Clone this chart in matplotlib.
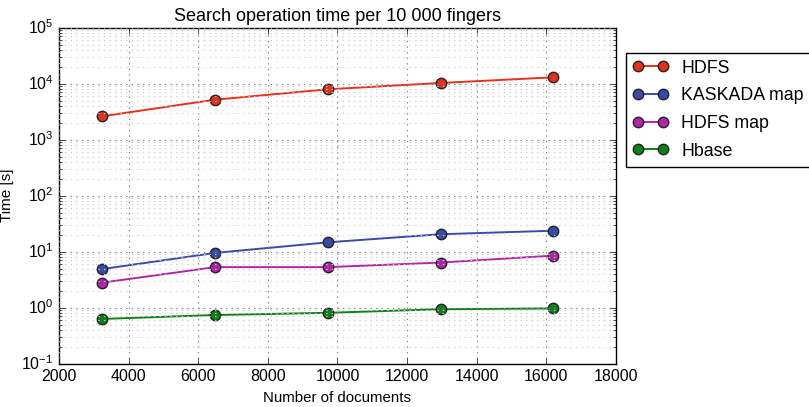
import matplotlib
matplotlib.use("Agg")
import matplotlib.pyplot as plt

# number of indexed documents
docs = [3240, 6480, 9720, 12960, 16200]

# search time [s] per 10 000 fingers
hdfs = [2620, 5180, 7940, 10300, 13000]
kaskada_map = [4.9, 9.5, 14.7, 20.5, 23.7]
hdfs_map = [2.8, 5.3, 5.3, 6.4, 8.5]
hbase = [0.63, 0.74, 0.81, 0.94, 0.97]

labels = ["HDFS", "KASKADA map", "HDFS map", "Hbase"]
colors = ["#e2321f", "#3a4aa8", "#b026a6", "#0e7f19"]

plt.style.use("classic")
plt.rcParams["font.family"] = ["Liberation Sans", "DejaVu Sans"]
plt.rcParams["mathtext.default"] = "regular"
plt.rcParams["figure.facecolor"] = "white"

fig = plt.figure(figsize=(8.09, 4.07), dpi=100)
ax = fig.add_subplot(111)
fig.subplots_adjust(left=59 / 809, right=616 / 809, top=1 - 27.7 / 407, bottom=1 - 363.7 / 407)

for series, label, color in zip([hdfs, kaskada_map, hdfs_map, hbase], labels, colors):
    ax.plot(docs, series, "-o", color=color, markerfacecolor=color,
            markeredgecolor="#222222", markeredgewidth=1.0,
            markersize=7.5, linewidth=1.4, label=label)

ax.set_yscale("log")
ax.set_xlim(2000, 18000)
ax.set_ylim(0.1, 1e5)

ax.grid(True, which="major", linestyle=":", color="0.5", linewidth=0.8)
ax.grid(True, which="minor", linestyle=":", color="0.8", linewidth=0.8)

ax.set_title("Search operation time per 10 000 fingers", fontsize=13)
ax.set_xlabel("Number of documents", fontsize=10.8)
ax.set_ylabel("Time [s]", fontsize=11)
ax.tick_params(labelsize=11.5)

ax.legend(loc="upper left", bbox_to_anchor=(1.018, 0.926), borderaxespad=0,
          numpoints=2, fontsize=12.8, frameon=True, fancybox=False,
          borderpad=0.4, labelspacing=0.6, handlelength=2.0,
          handletextpad=0.7)

fig.savefig("out.png", dpi=100, facecolor="white")
